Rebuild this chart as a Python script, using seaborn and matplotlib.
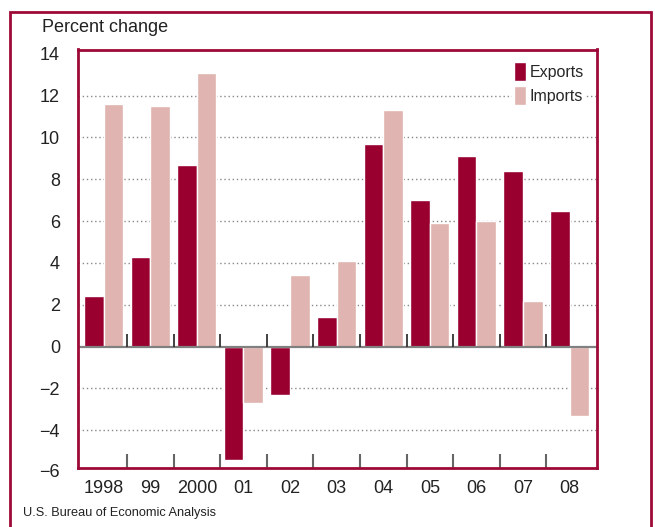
import matplotlib
matplotlib.use('Agg')
import matplotlib.pyplot as plt
import matplotlib.patches as patches
import matplotlib.transforms as mtransforms
import seaborn as sns
import numpy as np
import pandas as pd

# 数据
years = ['1998', '99', '2000', '01', '02', '03', '04', '05', '06', '07', '08']
exports = [2.4, 4.3, 8.7, -5.4, -2.3, 1.4, 9.7, 7.0, 9.1, 8.4, 6.5]
imports = [11.6, 11.5, 13.1, -2.7, 3.4, 4.1, 11.3, 5.9, 6.0, 2.2, -3.3]
series = ['Exports', 'Imports']
y_ticks = [-4, -2, 0, 2, 4, 6, 8, 10, 12, 14]

dark_red = '#990030'
pink = '#e0b4b0'
frame_red = '#9e0a38'

df = pd.DataFrame({
    'year': years * 2,
    'pct': exports + imports,
    'series': ['Exports'] * len(years) + ['Imports'] * len(years),
})

sns.set_style('white')
plt.rcParams['font.family'] = ['Liberation Sans', 'DejaVu Sans']
plt.rcParams['axes.unicode_minus'] = True

fig = plt.figure(figsize=(6.55, 5.27), dpi=100)
ax = fig.add_axes([78 / 655, 1 - 467.7 / 527, (596.7 - 78) / 655, (467.7 - 49.5) / 527])

sns.barplot(data=df, x='year', y='pct', hue='series', order=years, hue_order=series,
            palette=[dark_red, pink], saturation=1, width=0.84, gap=0,
            errorbar=None, ax=ax, zorder=3)

ax.set_xlim(-0.55, len(years) - 0.42)
ax.set_ylim(-5.79, 14.2)
ax.set_yticks(y_ticks)
ax.set_xlabel('')
ax.set_ylabel('')

# 网格线（点线）
for v in y_ticks:
    if v not in (0, 14):
        ax.axhline(v, color='#888888', lw=1.0, ls=(0, (1, 2)), zorder=1)
ax.axhline(0, color='#808080', lw=1.6, zorder=4)

# 年份分隔刻度
bounds = np.arange(len(years) - 1) + 0.5
ax.vlines(bounds, 0, 0.6, color='#333333', lw=1.3, zorder=4)
ax.set_xticks(bounds, minor=True)
ax.tick_params(axis='x', which='minor', direction='in', length=10, width=1.5,
               color='#666666', bottom=True)
ax.tick_params(axis='x', which='major', length=0, pad=9, labelsize=13, colors='#222222')
ax.tick_params(axis='y', length=0, pad=13, labelsize=13, colors='#222222')

# -6 标签（在坐标范围外）
trans = mtransforms.blended_transform_factory(ax.transAxes, ax.transData)
ax.text(-13 / 72 * 100 / (596.7 - 78), -6, '\u22126', transform=trans, ha='right',
        va='center', fontsize=13, color='#222222', clip_on=False)

for s in ax.spines.values():
    s.set_color(frame_red)
    s.set_linewidth(2.0)
    s.set_zorder(5)

leg = ax.legend(loc='upper right', frameon=True, facecolor='white', edgecolor='none',
                framealpha=1, fontsize=11.5, handlelength=0.75, handleheight=1.45,
                handletextpad=0.25, labelspacing=0.3, borderpad=0.1,
                borderaxespad=0.7, fancybox=False)
leg.set_zorder(6)

fig.text(42 / 655, 1 - 27 / 527, 'Percent change', fontsize=13, va='center',
         ha='left', color='#222222')
fig.text(23 / 655, 1 - 513 / 527, 'U.S. Bureau of Economic Analysis', fontsize=9.2,
         va='center', ha='left', color='#222222')

# 外框
outer = patches.Rectangle((10 / 655, -0.05), (651 - 10) / 655, 1 - 12 / 527 + 0.05,
                          transform=fig.transFigure, fill=False, edgecolor=frame_red,
                          lw=2.0, clip_on=False)
fig.patches.append(outer)

fig.savefig('out.png', dpi=100)
